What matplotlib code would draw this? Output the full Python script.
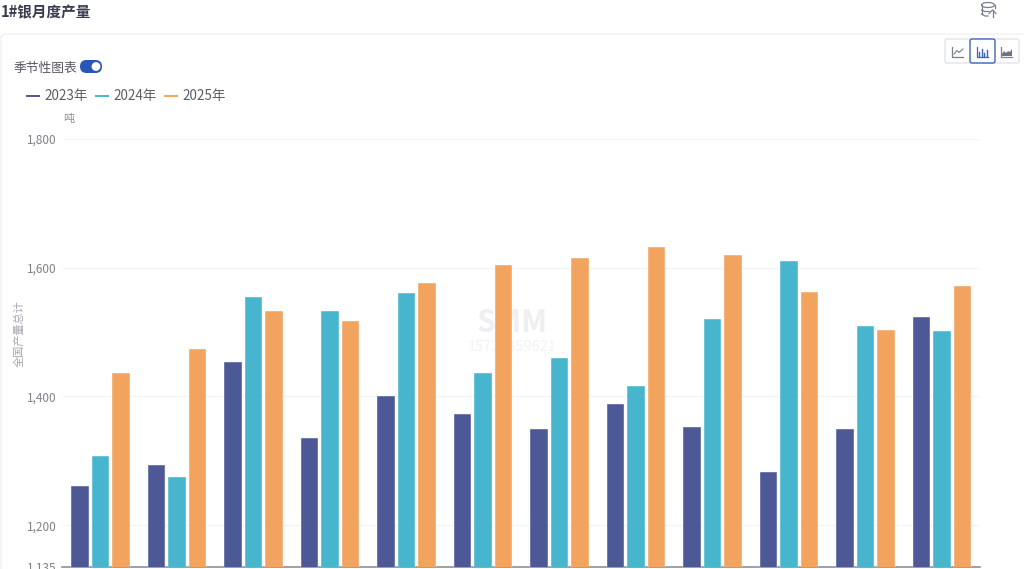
import matplotlib
matplotlib.use("Agg")
import matplotlib.pyplot as plt
from matplotlib.patches import FancyBboxPatch, Rectangle, Circle, Ellipse

plt.rcParams['font.family'] = ['Noto Sans CJK SC', 'DejaVu Sans']

months = list(range(12))
series_names = ['2023年', '2024年', '2025年']
colors = ['#4D5897', '#47B5CD', '#F2A45F']
y2023 = [1261, 1294, 1454, 1335, 1400, 1372, 1350, 1389, 1353, 1282, 1350, 1524]
y2024 = [1307, 1275, 1554, 1532, 1560, 1437, 1459, 1416, 1521, 1610, 1509, 1501]
y2025 = [1437, 1473, 1532, 1517, 1576, 1604, 1615, 1632, 1619, 1562, 1504, 1571]
yticks = [1135, 1200, 1400, 1600, 1800]
W, H = 1024, 569

fig = plt.figure(figsize=(W/100, H/100), dpi=100, facecolor='white')

# overlay for page furniture, in pixel coordinates
ov = fig.add_axes([0, 0, 1, 1], zorder=0)
ov.set_xlim(0, W); ov.set_ylim(H, 0); ov.axis('off')
ov.add_patch(FancyBboxPatch((1, 34), 1040, 600, boxstyle='round,pad=0,rounding_size=5',
                            fc='white', ec='#F0F1F7', lw=1.0))
ov.text(1, 12.5, '1#银月度产量', fontsize=10.5, fontweight='bold', color='#3A3C50', va='center', ha='left')
ov.text(14, 68, '季节性图表', fontsize=9.2, color='#55565F', va='center', ha='left')
ov.add_patch(FancyBboxPatch((80, 60), 22, 13, boxstyle='round,pad=0,rounding_size=6.5', fc='#2A57B5', ec='none'))
ov.add_patch(Circle((96, 66.5), 4.4, fc='white', ec='none'))

# legend
for x0, name, c in zip([26, 95, 164], series_names, colors):
    ov.plot([x0, x0+14], [96, 96], color=c, lw=1.4, solid_capstyle='butt')
    ov.text(x0+18, 95.5, name, fontsize=9.7, color='#5C5D66', va='center', ha='left')
ov.text(68.5, 119, '吨', fontsize=8, color='#8A8C99', va='center', ha='center')
ov.text(19, 334, '全国产量总计', fontsize=8, color='#A5A7B0', va='center', ha='center', rotation=90)

# top-right database icon
ic = '#7A7F8C'
ov.add_patch(Ellipse((988, 5), 13, 5, fc='none', ec=ic, lw=0.9))
ov.plot([981.5, 981.5], [5, 14], color=ic, lw=0.9)
ov.plot([994.5, 994.5], [5, 8], color=ic, lw=0.9)
ov.plot([981.5, 985, 989], [10, 11.5, 11.5], color=ic, lw=0.9)
ov.plot([981.5, 985, 988], [14, 16, 16], color=ic, lw=0.9)
ov.plot([992.5, 992.5], [10, 17], color=ic, lw=0.9)
ov.plot([989, 992.5, 996], [13.5, 10, 13.5], color=ic, lw=0.9)

# chart-type buttons
ov.add_patch(FancyBboxPatch((945, 39), 74, 24, boxstyle='round,pad=0,rounding_size=2', fc='white', ec='#E3E4E8', lw=1))
ov.add_patch(FancyBboxPatch((970, 39), 25, 24, boxstyle='round,pad=0,rounding_size=2', fc='white', ec='#3C64BE', lw=1))
for x0, c in zip([952, 976.5, 1001], ['#7A7F8C', '#3C64BE', '#7A7F8C']):
    ov.plot([x0, x0, x0+11], [47, 56.5, 56.5], color=c, lw=0.9)
ov.plot([954, 957, 959, 963], [54, 50.5, 52.5, 49], color='#7A7F8C', lw=0.8)
for dx, h in zip([2.5, 5, 7.5, 10], [4, 7, 3, 6]):
    ov.plot([976.5+dx]*2, [55.5, 55.5-h], color='#3C64BE', lw=1)
ov.fill([1002, 1004, 1006, 1008, 1010, 1012, 1012, 1002], [54, 51, 53, 51, 52, 49, 56, 56], color='#6E7380', lw=0)

# watermark
ov.text(512, 323, 'SMM', fontsize=22, fontweight='bold', fontstyle='italic', color='#EFEFF3', va='center', ha='center')
ov.text(512, 347, '15725859621', fontsize=10.5, color='#F3F3F6', va='center', ha='center')

# main chart
ax = fig.add_axes([62.5/W, 1-567/H, (980-62.5)/W, (567-139)/H], zorder=1)
ax.patch.set_alpha(0)
ax.set_xlim(-0.5, 11.5)
ax.set_ylim(1135, 1800)
off = 20.5/76.5
bw = 17.5/76.5
for j, (vals, c) in enumerate(zip([y2023, y2024, y2025], colors)):
    ax.bar([m + (j-1)*off for m in months], vals, width=bw, color=c,
           edgecolor='#FFFFFF', linewidth=0.3, zorder=3)
for s in ['top', 'left', 'right']:
    ax.spines[s].set_visible(False)
ax.spines['bottom'].set_color('#8F8F9C')
ax.spines['bottom'].set_linewidth(1.2)
ax.set_xticks([])
ax.set_yticks(yticks)
ax.set_yticklabels([f'{v:,}' for v in yticks], fontsize=8.5, color='#7E808C')
ax.tick_params(axis='y', length=0, pad=4.5)
ax.grid(axis='y', color='#F3F4F9', lw=1.0, zorder=0)
ax.set_axisbelow(True)

fig.savefig('out.png', dpi=100)
